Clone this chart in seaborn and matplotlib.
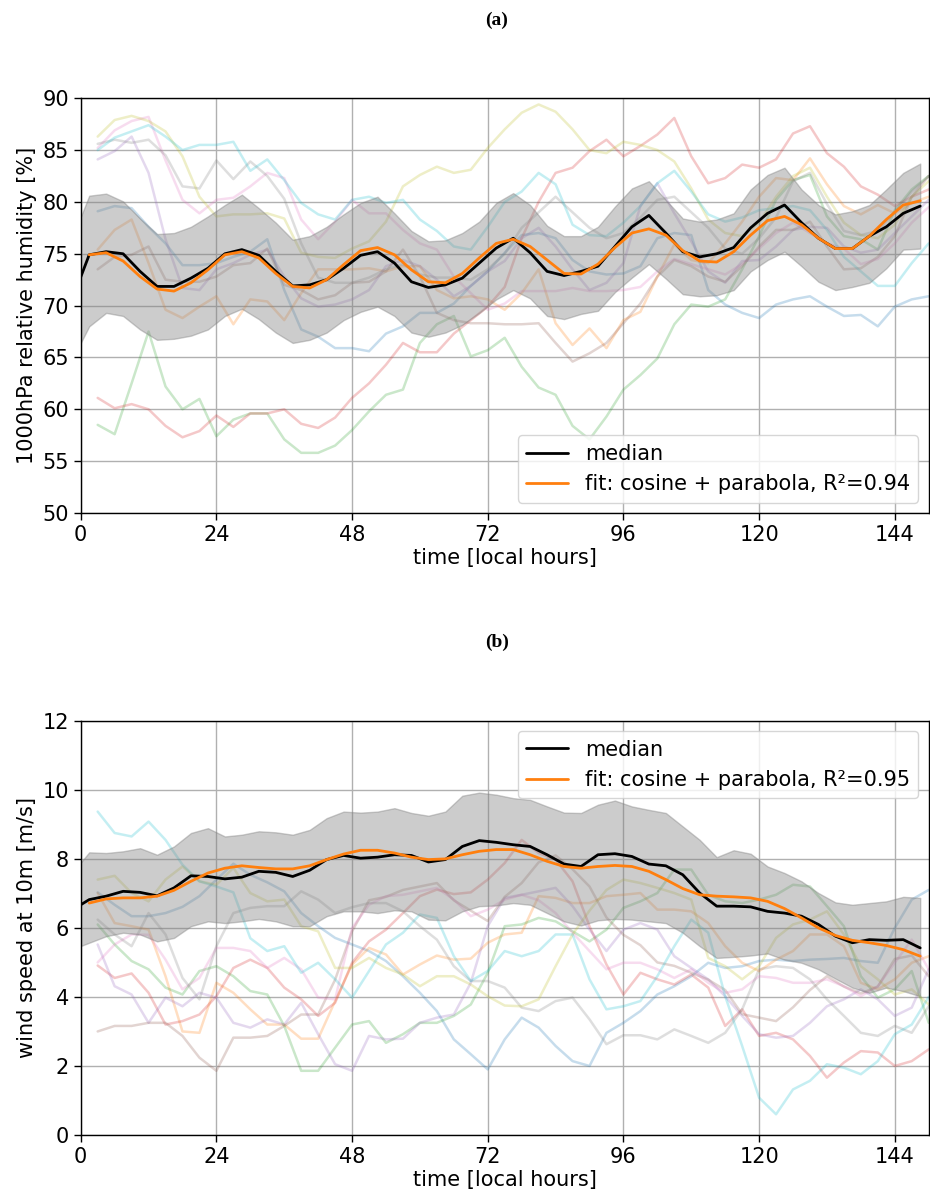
import matplotlib
matplotlib.use("Agg")
import matplotlib.pyplot as plt
import seaborn as sns
import numpy as np

# ---------------- data ----------------
hours_bg = list(range(3, 151, 3))                       # individual cases
hours_med = [-1.5 + 3 * k for k in range(51)]           # median / spread
hours_fit = [1.5 + 3 * k for k in range(50)]            # fit

palette = ["tab:blue", "tab:orange", "tab:green", "tab:red", "tab:purple",
           "tab:brown", "tab:pink", "tab:gray", "tab:olive", "tab:cyan"]

# panel (a): 1000hPa relative humidity [%]
rh_blue = [79.1, 79.6, 79.4, 77.6, 76.0, 73.9, 73.9, 74.1, 74.7, 75.2, 76.4, 71.5, 67.7, 67.0, 65.9, 65.9, 65.6, 67.3, 68.0, 69.3,
           69.3, 70.2, 71.9, 73.3, 75.1, 76.8, 77.0, 76.5, 74.4, 73.3, 73.0, 73.1, 73.8, 76.5, 77.0, 76.8, 71.5, 70.1, 69.3, 68.8,
           70.1, 70.6, 70.9, 69.9, 69.0, 69.1, 68.0, 69.9, 70.6, 70.9]
rh_orange = [75.4, 77.3, 78.3, 74.1, 69.6, 68.8, 69.9, 70.9, 68.2, 70.6, 70.4, 68.6, 71.2, 73.5, 73.5, 73.5, 73.6, 73.3, 73.8, 73.8,
             71.5, 70.7, 70.9, 70.6, 69.6, 71.2, 73.5, 68.3, 66.2, 67.8, 65.9, 68.6, 69.4, 72.8, 75.9, 74.4, 74.1, 76.0, 78.1, 80.5,
             82.3, 82.1, 84.2, 81.7, 79.6, 78.8, 79.7, 78.9, 79.9, 80.5]
rh_green = [58.5, 57.6, 62.5, 67.5, 62.2, 60.0, 61.0, 57.4, 59.0, 59.6, 59.6, 57.1, 55.8, 55.8, 56.5, 58.0, 59.8, 61.4, 61.9, 66.4,
            68.2, 69.0, 65.1, 65.7, 66.9, 64.1, 62.1, 61.4, 58.4, 57.1, 59.3, 61.9, 63.3, 64.9, 68.2, 70.1, 69.9, 70.6, 73.5, 76.7,
            80.2, 82.1, 82.6, 78.6, 76.7, 76.4, 75.4, 79.2, 81.2, 82.5]
rh_red = [61.1, 60.1, 60.5, 60.0, 58.4, 57.3, 57.9, 59.4, 58.3, 59.6, 59.6, 60.0, 58.6, 58.2, 59.2, 61.1, 62.5, 64.3, 66.4, 65.5,
          65.5, 67.3, 68.6, 69.9, 71.8, 76.5, 80.0, 82.8, 83.3, 84.9, 86.0, 84.4, 85.4, 86.5, 88.1, 84.4, 81.8, 82.3, 83.6, 83.3,
          84.1, 86.6, 87.3, 84.7, 83.4, 81.5, 80.7, 79.6, 80.5, 81.2]
rh_purple = [84.1, 84.9, 86.3, 82.8, 76.4, 71.7, 71.5, 73.5, 74.1, 74.9, 75.4, 72.8, 70.7, 69.9, 70.1, 70.6, 71.5, 73.8, 74.4, 73.8,
             72.5, 70.9, 71.9, 73.3, 74.3, 76.5, 77.5, 75.7, 73.5, 71.5, 72.2, 74.1, 79.6, 81.8, 78.9, 76.2, 73.3, 72.2, 74.3, 74.4,
             75.7, 77.3, 77.6, 77.5, 75.7, 75.1, 75.4, 77.0, 78.6, 80.2]
rh_brown = [73.5, 74.7, 74.9, 75.7, 72.5, 72.3, 72.3, 72.8, 73.9, 74.1, 75.5, 72.0, 71.5, 70.6, 71.0, 72.2, 72.3, 73.3, 75.4, 72.8,
            69.3, 68.6, 68.3, 68.3, 68.2, 68.2, 68.3, 66.4, 64.6, 65.4, 66.4, 68.3, 70.2, 72.8, 74.4, 73.8, 72.8, 72.3, 73.8, 75.7,
            77.3, 77.3, 78.1, 75.7, 73.5, 73.6, 74.7, 76.7, 80.5, 82.5]
rh_pink = [85.2, 86.9, 87.8, 88.2, 84.0, 80.2, 78.9, 80.2, 80.4, 81.5, 82.8, 82.3, 78.3, 76.4, 78.1, 80.2, 78.9, 78.9, 77.3, 76.0,
           75.4, 72.8, 71.2, 69.6, 70.2, 71.4, 71.4, 71.4, 71.7, 71.4, 71.4, 71.5, 71.8, 73.3, 74.5, 74.0, 73.5, 73.0, 74.0, 75.5,
           77.0, 78.0, 77.0, 76.0, 75.5, 74.0, 74.5, 76.0, 78.0, 79.5]
rh_gray = [85.6, 86.0, 85.7, 86.0, 84.5, 81.5, 81.3, 84.0, 82.2, 83.9, 82.5, 80.3, 76.0, 72.7, 72.2, 72.2, 72.7, 73.5, 74.0, 73.0,
           72.7, 72.7, 72.5, 73.5, 75.0, 77.5, 79.0, 80.5, 79.0, 77.5, 76.5, 77.0, 78.5, 80.2, 80.5, 79.0, 77.5, 75.5, 75.0, 76.5,
           78.5, 82.0, 82.8, 79.8, 77.2, 76.8, 77.2, 79.0, 81.0, 82.5]
rh_olive = [86.3, 87.9, 88.3, 87.8, 86.8, 84.4, 80.5, 78.6, 78.8, 78.8, 78.9, 78.4, 75.1, 74.7, 74.6, 75.5, 76.2, 78.1, 81.5, 82.6,
            83.4, 82.8, 83.1, 85.2, 87.0, 88.6, 89.4, 88.7, 87.0, 85.0, 84.7, 85.8, 85.5, 85.0, 83.9, 81.3, 78.3, 77.0, 76.7, 78.0,
            80.5, 82.5, 83.3, 80.5, 78.0, 76.8, 76.5, 77.8, 80.5, 82.0]
rh_cyan = [85.0, 86.2, 86.8, 87.4, 86.3, 85.0, 85.5, 85.5, 85.8, 83.0, 84.1, 82.1, 79.9, 78.8, 78.3, 80.2, 80.5, 79.9, 80.2, 78.3,
           77.2, 75.7, 75.4, 77.6, 80.0, 81.0, 82.8, 81.7, 77.8, 76.8, 76.7, 78.0, 79.6, 81.8, 83.0, 81.0, 78.8, 78.1, 78.5, 79.2,
           79.4, 79.6, 79.2, 77.3, 74.7, 73.3, 71.9, 71.9, 74.1, 76.0]

rh_median = [70.6, 74.9, 75.2, 75.0, 73.3, 71.85, 71.85, 72.65, 73.6, 75.0, 75.4, 74.85, 73.3, 71.9, 72.0, 72.5, 73.6, 74.85,
             75.2, 74.1, 72.3, 71.75, 72.0, 72.65, 74.1, 75.55, 76.5, 75.1, 73.3, 72.9, 73.3, 73.8, 75.7, 77.6, 78.7, 77.0, 75.2,
             74.7, 75.0, 75.6, 77.5, 78.9, 79.7, 78.0, 76.5, 75.5, 75.5, 76.7, 77.6, 78.9, 79.6]
rh_upper = [76.5, 80.6, 80.8, 80.05, 78.4, 76.9, 77.0, 77.6, 78.6, 79.7, 80.7, 79.4, 78.0, 76.35, 76.7, 77.6, 78.8, 79.9, 80.5,
            78.9, 77.2, 76.2, 76.3, 77.0, 78.1, 79.9, 80.85, 79.7, 77.7, 76.7, 76.7, 77.6, 79.55, 81.3, 82.0, 80.2, 78.4, 78.1,
            78.3, 78.9, 81.2, 82.6, 83.3, 81.2, 79.7, 78.8, 79.1, 79.7, 81.2, 82.8, 83.7]
rh_lower = [64.8, 68.0, 69.3, 69.0, 67.7, 66.7, 66.8, 67.1, 67.7, 69.0, 69.7, 68.7, 67.4, 66.4, 66.7, 67.4, 68.6, 69.4, 69.9,
            69.0, 67.4, 67.0, 67.4, 68.15, 69.3, 70.6, 71.5, 70.7, 69.0, 68.7, 69.2, 69.5, 71.3, 72.7, 74.0, 72.6, 71.1, 70.9,
            71.0, 71.5, 73.3, 74.4, 75.2, 73.8, 72.3, 71.5, 71.8, 72.2, 73.6, 75.4, 75.5]
rh_fit = [74.9, 75.1, 74.3, 72.8, 71.6, 71.4, 72.2, 73.45, 74.9, 75.2, 74.6, 73.1, 71.85, 71.7, 72.5, 73.95, 75.3, 75.6, 74.9,
          73.45, 72.3, 72.2, 73.1, 74.6, 76.0, 76.4, 75.7, 74.4, 73.1, 73.05, 74.0, 75.6, 77.0, 77.4, 76.8, 75.3, 74.3, 74.2,
          75.2, 76.8, 78.2, 78.6, 77.8, 76.5, 75.5, 75.5, 76.7, 78.3, 79.7, 80.1]

# panel (b): wind speed at 10m [m/s]
ws_blue = [7.03, 6.67, 6.34, 6.34, 6.43, 6.61, 6.92, 7.4, 7.86, 7.54, 7.32, 7.06, 6.43, 6.05, 5.71, 5.52, 5.33, 5.04, 4.6, 4.12,
           3.59, 2.77, 2.34, 1.9, 2.77, 3.4, 3.11, 2.58, 2.14, 2.0, 2.96, 3.25, 3.59, 4.07, 4.31, 4.6, 4.99, 4.84, 4.89, 5.04,
           5.08, 5.04, 5.08, 5.1, 5.13, 5.04, 4.99, 6.0, 6.82, 7.1]
ws_orange = [7.01, 6.14, 6.05, 5.95, 4.6, 3.0, 2.96, 4.41, 4.12, 3.64, 3.2, 3.2, 2.79, 2.79, 3.88, 4.94, 5.42, 5.23, 4.65, 4.94,
             5.2, 5.08, 5.11, 5.57, 5.81, 5.86, 6.92, 6.87, 6.72, 6.72, 6.92, 6.96, 7.01, 6.53, 6.53, 6.48, 6.14, 5.47, 4.99, 4.75,
             5.08, 5.33, 5.81, 5.81, 5.47, 4.41, 4.22, 4.51, 4.99, 5.18]
ws_green = [6.1, 5.52, 5.04, 4.8, 4.27, 4.07, 4.75, 4.89, 4.6, 4.17, 4.07, 3.16, 1.86, 1.86, 2.53, 3.2, 3.3, 2.67, 2.92, 3.25,
            3.25, 3.45, 3.78, 4.7, 6.05, 6.1, 6.29, 6.19, 5.9, 5.61, 5.95, 6.58, 6.77, 7.01, 7.69, 7.69, 6.96, 6.77, 6.72, 6.82,
            6.96, 7.25, 7.2, 6.63, 6.05, 4.6, 3.98, 4.22, 4.75, 3.25]
ws_red = [4.91, 4.55, 4.68, 4.12, 3.2, 3.3, 3.49, 4.02, 4.84, 5.08, 4.84, 4.27, 3.93, 3.45, 3.83, 4.99, 5.61, 5.95, 6.43, 6.92,
          7.11, 6.98, 7.03, 7.4, 7.88, 8.55, 8.17, 7.98, 7.35, 6.05, 4.94, 4.07, 4.7, 4.51, 4.36, 4.65, 4.27, 3.16, 3.64, 2.87,
          2.96, 2.77, 2.29, 1.66, 2.1, 2.43, 2.39, 2.0, 2.14, 2.48]
ws_purple = [5.52, 4.31, 4.07, 3.25, 3.98, 3.73, 4.12, 3.98, 3.25, 3.11, 3.35, 3.2, 3.83, 2.92, 2.05, 1.86, 2.87, 2.77, 2.79, 3.25,
             3.4, 3.49, 4.41, 6.05, 6.87, 6.96, 7.06, 7.16, 6.63, 5.95, 5.33, 5.95, 6.14, 5.95, 5.18, 4.84, 4.51, 4.02, 3.45, 2.92,
             2.82, 2.87, 3.25, 3.73, 3.93, 4.22, 3.93, 3.45, 3.69, 4.8]
ws_brown = [3.0, 3.16, 3.16, 3.25, 3.25, 2.87, 2.24, 1.86, 2.82, 2.82, 2.87, 3.16, 3.49, 3.49, 4.5, 5.9, 6.8, 6.9, 7.1, 7.2,
            7.3, 6.8, 6.5, 6.2, 6.9, 7.3, 7.9, 8.1, 7.7, 7.2, 6.3, 5.8, 5.5, 5.0, 4.9, 4.7, 4.5, 4.2, 3.5, 3.4,
            3.3, 3.7, 4.2, 4.6, 4.3, 4.1, 4.3, 5.1, 5.2, 4.6]
ws_pink = [5.0, 5.52, 5.81, 5.8, 5.08, 4.22, 4.55, 5.42, 5.42, 5.33, 4.84, 5.13, 4.8, 3.98, 3.93, 6.0, 6.67, 6.92, 6.96, 7.06,
           7.16, 6.82, 6.34, 6.53, 6.82, 6.96, 6.8, 6.43, 5.86, 5.33, 4.8, 4.99, 4.99, 4.8, 4.55, 4.8, 4.41, 4.12, 4.22, 4.6,
           4.55, 4.41, 4.41, 4.51, 4.31, 4.02, 4.31, 4.99, 5.66, 4.8]
ws_gray = [6.24, 5.81, 5.47, 6.43, 5.81, 4.55, 3.93, 5.47, 6.43, 6.58, 6.63, 6.63, 7.06, 6.82, 6.43, 6.6, 6.72, 6.72, 6.48, 6.05,
           5.66, 4.89, 4.46, 4.46, 4.27, 3.69, 3.59, 3.88, 3.98, 3.35, 2.63, 2.89, 2.89, 2.77, 3.06, 2.87, 2.67, 2.96, 3.64, 4.8,
           4.89, 4.84, 4.51, 3.93, 3.45, 2.96, 2.87, 3.16, 2.96, 3.73]
ws_olive = [7.4, 7.51, 7.01, 6.77, 7.4, 7.78, 7.35, 7.25, 7.74, 7.01, 6.77, 6.82, 6.05, 5.9, 4.84, 4.84, 5.13, 4.84, 4.65, 4.31,
            4.6, 4.6, 4.36, 4.02, 3.75, 3.73, 3.93, 4.89, 5.81, 6.5, 7.1, 7.4, 7.3, 7.16, 7.01, 6.82, 5.13, 4.89, 4.51, 4.89,
            5.71, 6.1, 6.24, 6.48, 5.81, 4.89, 4.51, 4.07, 4.22, 3.78]
ws_cyan = [9.37, 8.75, 8.65, 9.08, 8.55, 7.83, 7.35, 7.2, 7.03, 5.7, 5.33, 5.47, 4.70, 4.99, 4.51, 3.98, 4.75, 5.52, 5.86, 6.39,
           6.29, 5.18, 4.46, 4.75, 5.33, 5.18, 5.33, 5.81, 5.81, 4.51, 3.64, 3.73, 3.88, 4.6, 5.47, 6.24, 5.86, 4.02, 2.58, 1.08,
           0.6, 1.32, 1.57, 2.05, 1.95, 1.76, 2.14, 2.92, 3.2, 4.0]

ws_median = [6.52, 6.82, 6.92, 7.06, 7.03, 6.93, 7.16, 7.51, 7.49, 7.42, 7.47, 7.64, 7.61, 7.49, 7.67, 7.98, 8.10, 8.02, 8.05,
             8.12, 8.10, 7.91, 7.98, 8.36, 8.53, 8.48, 8.41, 8.36, 8.12, 7.85, 7.78, 8.12, 8.15, 8.07, 7.85, 7.80, 7.54, 7.01,
             6.63, 6.63, 6.61, 6.48, 6.43, 6.34, 6.10, 5.76, 5.57, 5.66, 5.64, 5.66, 5.42]
ws_upper = [7.6, 8.19, 8.17, 8.22, 8.31, 8.12, 8.36, 8.75, 8.89, 8.65, 8.70, 8.80, 8.77, 8.70, 8.84, 9.18, 9.37, 9.34, 9.37,
            9.47, 9.33, 9.25, 9.37, 9.83, 9.92, 9.86, 9.76, 9.71, 9.52, 9.34, 9.33, 9.57, 9.69, 9.52, 9.42, 9.33, 8.94, 8.55,
            8.05, 8.25, 8.15, 7.78, 7.59, 7.35, 7.01, 6.74, 6.67, 6.72, 6.77, 6.90, 6.87]
ws_lower = [5.38, 5.57, 5.76, 5.86, 5.81, 5.61, 5.71, 6.05, 6.19, 6.14, 6.19, 6.26, 6.19, 6.05, 6.05, 6.34, 6.48, 6.48, 6.43,
            6.51, 6.48, 6.24, 6.22, 6.48, 6.63, 6.65, 6.72, 6.67, 6.43, 6.19, 6.07, 6.22, 6.26, 6.24, 6.19, 6.14, 5.86, 5.47,
            5.13, 5.16, 5.20, 5.26, 5.08, 4.99, 4.80, 4.53, 4.27, 4.12, 4.27, 4.17, 4.02]
ws_fit = [6.72, 6.84, 6.87, 6.87, 6.92, 7.09, 7.35, 7.59, 7.73, 7.80, 7.75, 7.71, 7.71, 7.80, 7.98, 8.14, 8.25, 8.25, 8.17,
          8.05, 7.98, 8.0, 8.12, 8.22, 8.27, 8.27, 8.12, 7.93, 7.78, 7.73, 7.78, 7.81, 7.78, 7.64, 7.40, 7.14, 6.96, 6.92,
          6.90, 6.87, 6.77, 6.56, 6.29, 6.0, 5.78, 5.64, 5.57, 5.49, 5.37, 5.18]

rh_cases = [rh_blue, rh_orange, rh_green, rh_red, rh_purple, rh_brown, rh_pink, rh_gray, rh_olive, rh_cyan]
ws_cases = [ws_blue, ws_orange, ws_green, ws_red, ws_purple, ws_brown, ws_pink, ws_gray, ws_olive, ws_cyan]

x_ticks = [0, 24, 48, 72, 96, 120, 144]
rh_ticks = [50, 55, 60, 65, 70, 75, 80, 85, 90]
ws_ticks = [0, 2, 4, 6, 8, 10, 12]

panels = [
    dict(cases=rh_cases, med=rh_median, up=rh_upper, lo=rh_lower, fit=rh_fit,
         r2="0.94", ylabel="1000hPa relative humidity [%]", ylim=(50, 90),
         yticks=rh_ticks, loc="lower right", title="(a)"),
    dict(cases=ws_cases, med=ws_median, up=ws_upper, lo=ws_lower, fit=ws_fit,
         r2="0.95", ylabel="wind speed at 10m [m/s]", ylim=(0, 12),
         yticks=ws_ticks, loc="upper right", title="(b)"),
]

# ---------------- drawing ----------------
sns.set_style("ticks")
plt.rcParams["font.family"] = ["DejaVu Sans"]
plt.rcParams["axes.edgecolor"] = "black"
plt.rcParams["axes.labelcolor"] = "black"
plt.rcParams["text.color"] = "black"
plt.rcParams["xtick.color"] = "black"
plt.rcParams["ytick.color"] = "black"

FS = 15
fig = plt.figure(figsize=(9.30, 11.98), dpi=100)
ax_pos = [[0.0868, 0.5718, 0.9118, 0.3462],
          [0.0868, 0.0526, 0.9118, 0.3457]]
title_y = [0.9830, 0.4640]

for p, pos, ty in zip(panels, ax_pos, title_y):
    ax = fig.add_axes(pos)
    for vals, col in zip(p["cases"], palette):
        sns.lineplot(x=hours_bg, y=vals, color=col, alpha=0.25, linewidth=1.8,
                     ax=ax, legend=False, zorder=1)
    ax.fill_between(hours_med, p["lo"], p["up"], color="gray", alpha=0.4,
                    linewidth=1.0, zorder=2)
    sns.lineplot(x=hours_med, y=p["med"], color="black", linewidth=2,
                 label="median", ax=ax, zorder=4)
    sns.lineplot(x=hours_fit, y=p["fit"], color="tab:orange", linewidth=2,
                 label="fit: cosine + parabola, R\u00b2=" + p["r2"], ax=ax, zorder=5)
    ax.set_xlim(0, 150)
    ax.set_ylim(*p["ylim"])
    ax.set_xticks(x_ticks)
    ax.set_yticks(p["yticks"])
    ax.tick_params(labelsize=FS, length=5, width=1)
    ax.grid(True, color="#b0b0b0", linewidth=1.0)
    ax.set_axisbelow(True)
    ax.set_xlabel("time [local hours]", fontsize=FS, labelpad=2)
    ax.set_ylabel(p["ylabel"], fontsize=FS, labelpad=4)
    for s in ax.spines.values():
        s.set_visible(True)
        s.set_color("black")
        s.set_linewidth(1.0)
    ax.legend(loc=p["loc"], fontsize=FS, framealpha=0.8, handlelength=2.0)
    fig.text(0.534, ty, p["title"], ha="center", va="center", fontsize=14,
             fontweight="bold", family=["Liberation Serif", "DejaVu Serif"])

fig.savefig("out.png", dpi=100)
